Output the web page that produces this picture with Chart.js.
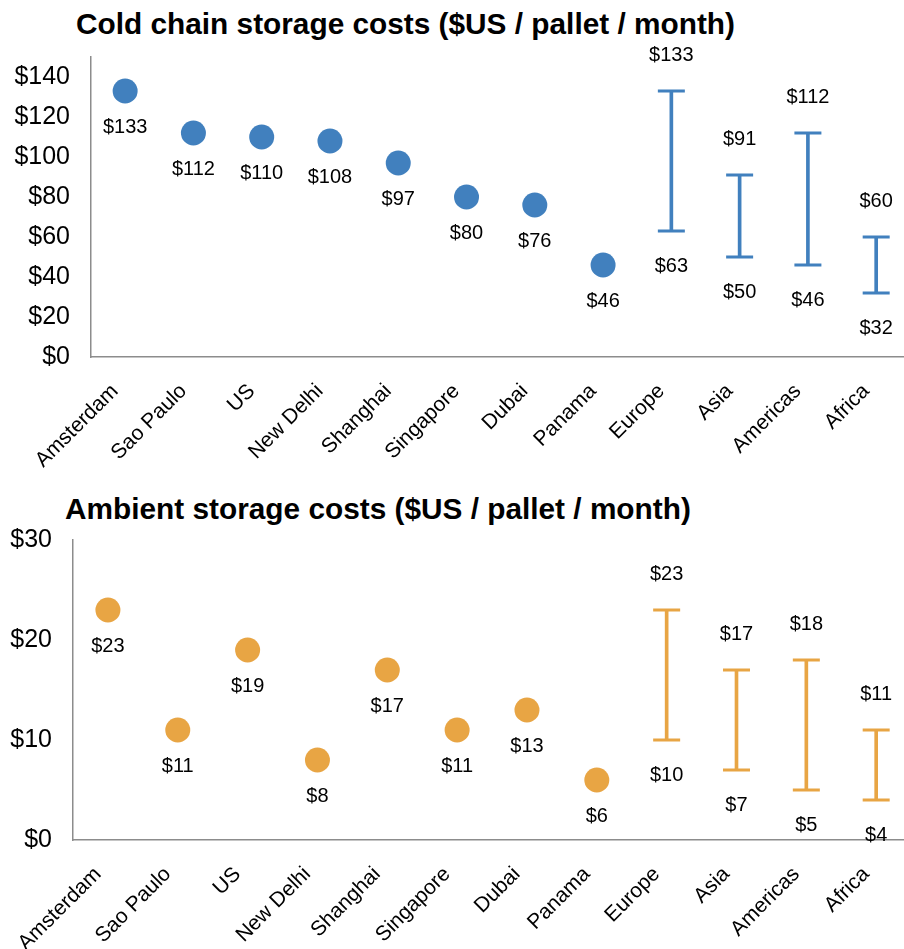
<!DOCTYPE html>
<html>
<head>
<meta charset="utf-8">
<script src="https://cdn.jsdelivr.net/npm/chart.js@4.4.1/dist/chart.umd.min.js"></script>
<style>
html, body { margin: 0; padding: 0; background: #fff; overflow: hidden; width: 904px; height: 949px; }
.wrap { position: absolute; left: 0; width: 916px; }
.title { position: absolute; font-family: "Liberation Sans", Arial, sans-serif; font-weight: bold; font-size: 29.8px; line-height: 1; color: #000; white-space: nowrap; }
</style>
</head>
<body>
<div class="title" style="left:76px; top:9px;">Cold chain storage costs ($US / pallet / month)</div>
<div class="wrap" style="top:0; height:470px;"><canvas id="cold"></canvas></div>
<div class="title" style="left:65px; top:494px;">Ambient storage costs ($US / pallet / month)</div>
<div class="wrap" style="top:476px; height:473px;"><canvas id="ambient"></canvas></div>
<script>
// ---- data ----
const categories = ['Amsterdam', 'Sao Paulo', 'US', 'New Delhi', 'Shanghai', 'Singapore', 'Dubai', 'Panama', 'Europe', 'Asia', 'Americas', 'Africa'];

const coldCityCosts  = [133, 112, 110, 108, 97, 80, 76, 46, null, null, null, null];
const coldRangeLow   = [null, null, null, null, null, null, null, null, 63, 50, 46, 32];
const coldRangeHigh  = [null, null, null, null, null, null, null, null, 133, 91, 112, 60];
const coldTickValues = [0, 20, 40, 60, 80, 100, 120, 140];

const ambientCityCosts  = [23, 11, 19, 8, 17, 11, 13, 6, null, null, null, null];
const ambientRangeLow   = [null, null, null, null, null, null, null, null, 10, 7, 5, 4];
const ambientRangeHigh  = [null, null, null, null, null, null, null, null, 23, 17, 18, 11];
const ambientTickValues = [0, 10, 20, 30];

// ---- styling ----
const FONT = '"Liberation Sans", Arial, sans-serif';
const BLUE = '#4180BE';
const ORANGE = '#E8A544';
const AXIS = '#8C8C8C';

const valueLabels = {
  id: 'valueLabels',
  afterDatasetsDraw(chart) {
    const ctx = chart.ctx;
    ctx.save();
    ctx.font = '20px ' + FONT;
    ctx.fillStyle = '#000';
    ctx.textAlign = 'center';
    ctx.textBaseline = 'middle';
    chart.data.datasets.forEach((ds, i) => {
      if (ds.labelOffset === undefined) return;
      const meta = chart.getDatasetMeta(i);
      meta.data.forEach((el, j) => {
        const v = ds.data[j];
        if (v === null || v === undefined) return;
        ctx.fillText('$' + v, el.x, el.y + ds.labelOffset);
      });
    });
    ctx.restore();
  }
};

function makeChart(id, color, cityCosts, lows, highs, tickValues, yMax, padTop, yWidth, xHeight) {
  const ranges = lows.map((l, i) => (l === null ? null : [l, highs[i]]));
  return new Chart(document.getElementById(id), {
    data: {
      labels: categories,
      datasets: [
        {
          type: 'bar',
          data: ranges,
          backgroundColor: color,
          borderWidth: 0,
          barThickness: 3
        },
        {
          type: 'line',
          data: highs,
          showLine: false,
          pointStyle: 'line',
          pointRadius: 13.5,
          pointBorderWidth: 3,
          pointBorderColor: color,
          pointBackgroundColor: color,
          labelOffset: -36
        },
        {
          type: 'line',
          data: lows,
          showLine: false,
          pointStyle: 'line',
          pointRadius: 13.5,
          pointBorderWidth: 3,
          pointBorderColor: color,
          pointBackgroundColor: color,
          labelOffset: 35
        },
        {
          type: 'line',
          data: cityCosts,
          showLine: false,
          pointStyle: 'circle',
          pointRadius: 12.5,
          pointBorderWidth: 0,
          pointBackgroundColor: color,
          pointBorderColor: color,
          labelOffset: 36
        }
      ]
    },
    options: {
      responsive: true,
      maintainAspectRatio: false,
      animation: false,
      events: [],
      layout: { padding: { top: padTop, left: 0, right: 0, bottom: 0 }, autoPadding: false },
      plugins: { legend: { display: false }, tooltip: { enabled: false }, title: { display: false } },
      scales: {
        x: {
          type: 'category',
          offset: true,
          grid: { display: false, drawTicks: false },
          border: { display: true, color: AXIS, width: 1.5 },
          ticks: {
            color: '#000',
            font: { family: FONT, size: 21 },
            minRotation: 45,
            maxRotation: 45,
            autoSkip: false,
            padding: 22,
            labelOffset: -10
          },
          afterFit(scale) { scale.height = xHeight; }
        },
        y: {
          type: 'linear',
          min: 0,
          max: yMax,
          bounds: 'data',
          grid: { display: false, drawTicks: false },
          border: { display: true, color: AXIS, width: 1.5 },
          ticks: {
            color: '#000',
            font: { family: FONT, size: 25 },
            padding: 21,
            callback: (v) => '$' + v
          },
          afterBuildTicks(scale) { scale.ticks = tickValues.map(v => ({ value: v })); },
          afterFit(scale) { scale.width = yWidth; }
        }
      }
    },
    plugins: [valueLabels]
  });
}

makeChart('cold', BLUE, coldCityCosts, coldRangeLow, coldRangeHigh, coldTickValues, 150, 57, 91, 113);
makeChart('ambient', ORANGE, ambientCityCosts, ambientRangeLow, ambientRangeHigh, ambientTickValues, 30, 64, 73, 109);
</script>
</body>
</html>
